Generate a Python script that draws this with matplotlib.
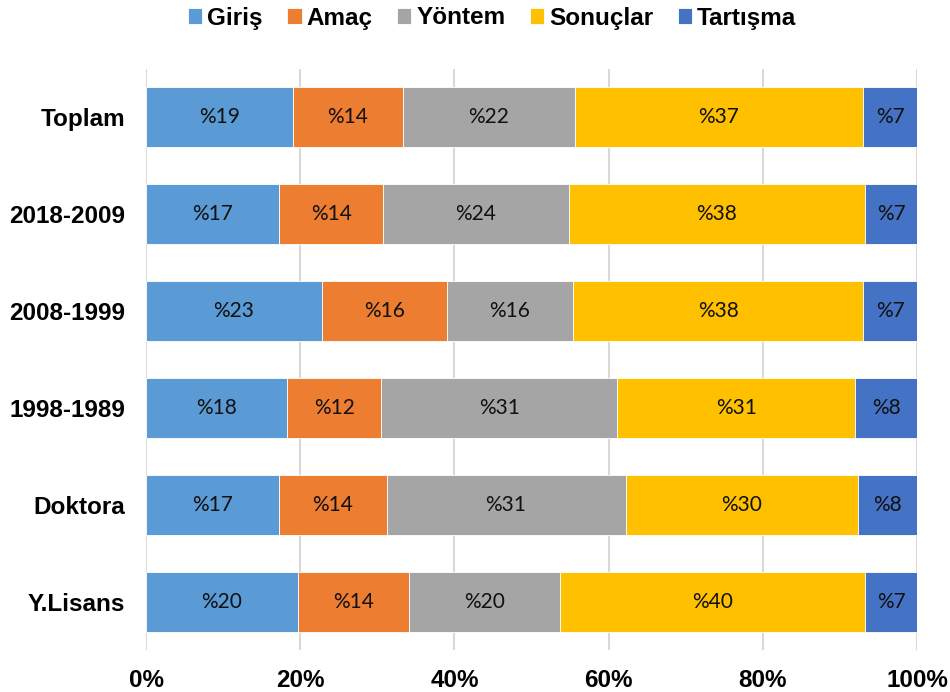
import matplotlib.pyplot as plt
import numpy as np

# veri (yüzde)
categories = ['Toplam', '2018-2009', '2008-1999', '1998-1989', 'Doktora', 'Y.Lisans']
series = ['Giriş', 'Amaç', 'Yöntem', 'Sonuçlar', 'Tartışma']
giris = [19.1, 17.3, 22.8, 18.3, 17.3, 19.7]
amac = [14.2, 13.5, 16.2, 12.2, 13.9, 14.4]
yontem = [22.3, 24.0, 16.4, 30.6, 31.0, 19.6]
sonuclar = [37.4, 38.4, 37.6, 30.9, 30.1, 39.6]
tartisma = [7.0, 6.9, 7.0, 8.0, 7.8, 6.8]
colors = ['#5B9BD5', '#ED7D31', '#A5A5A5', '#FFC000', '#4472C4']

values = [giris, amac, yontem, sonuclar, tartisma]

fig = plt.figure(figsize=(9.5, 6.92), dpi=100)
ax = fig.add_axes([146/950, 1 - 650/692, (917 - 146)/950, (650 - 69)/692])

y = np.arange(len(categories))
left = np.zeros(len(categories))
for name, vals, c in zip(series, values, colors):
    vals = np.array(vals)
    ax.barh(y, vals, left=left, height=0.62, color=c, label=name,
            edgecolor='white', linewidth=0.6, zorder=3)
    for yi, l, v in zip(y, left, vals):
        ax.text(l + v / 2, yi, f'%{v:.0f}', ha='center', va='center',
                fontsize=15, family='Lato', color='#111111', zorder=4)
    left += vals

ax.set_xlim(0, 100)
ax.set_ylim(len(categories) - 0.5, -0.5)
ax.set_yticks(y)
ax.set_yticklabels(categories, fontsize=17.5, fontweight='bold', family='Liberation Sans')
ax.set_xticks(np.arange(0, 101, 20))
ax.set_xticklabels([f'{t}%' for t in range(0, 101, 20)], fontsize=17.5,
                   fontweight='bold', family='Liberation Sans')
ax.tick_params(axis='both', length=0)
ax.tick_params(axis='x', pad=14)
ax.tick_params(axis='y', pad=15)
ax.grid(axis='x', color='#D9D9D9', linewidth=1.5, zorder=0)
for s in ax.spines.values():
    s.set_visible(False)

leg = fig.legend(loc='center', bbox_to_anchor=(0.518, 1 - 18/692), ncol=5, frameon=False,
                 handlelength=0.6, handleheight=0.6, handletextpad=0.2, columnspacing=1.0,
                 prop={'family': 'Liberation Sans', 'weight': 'bold', 'size': 17.5})

fig.savefig('out.png', dpi=100)
